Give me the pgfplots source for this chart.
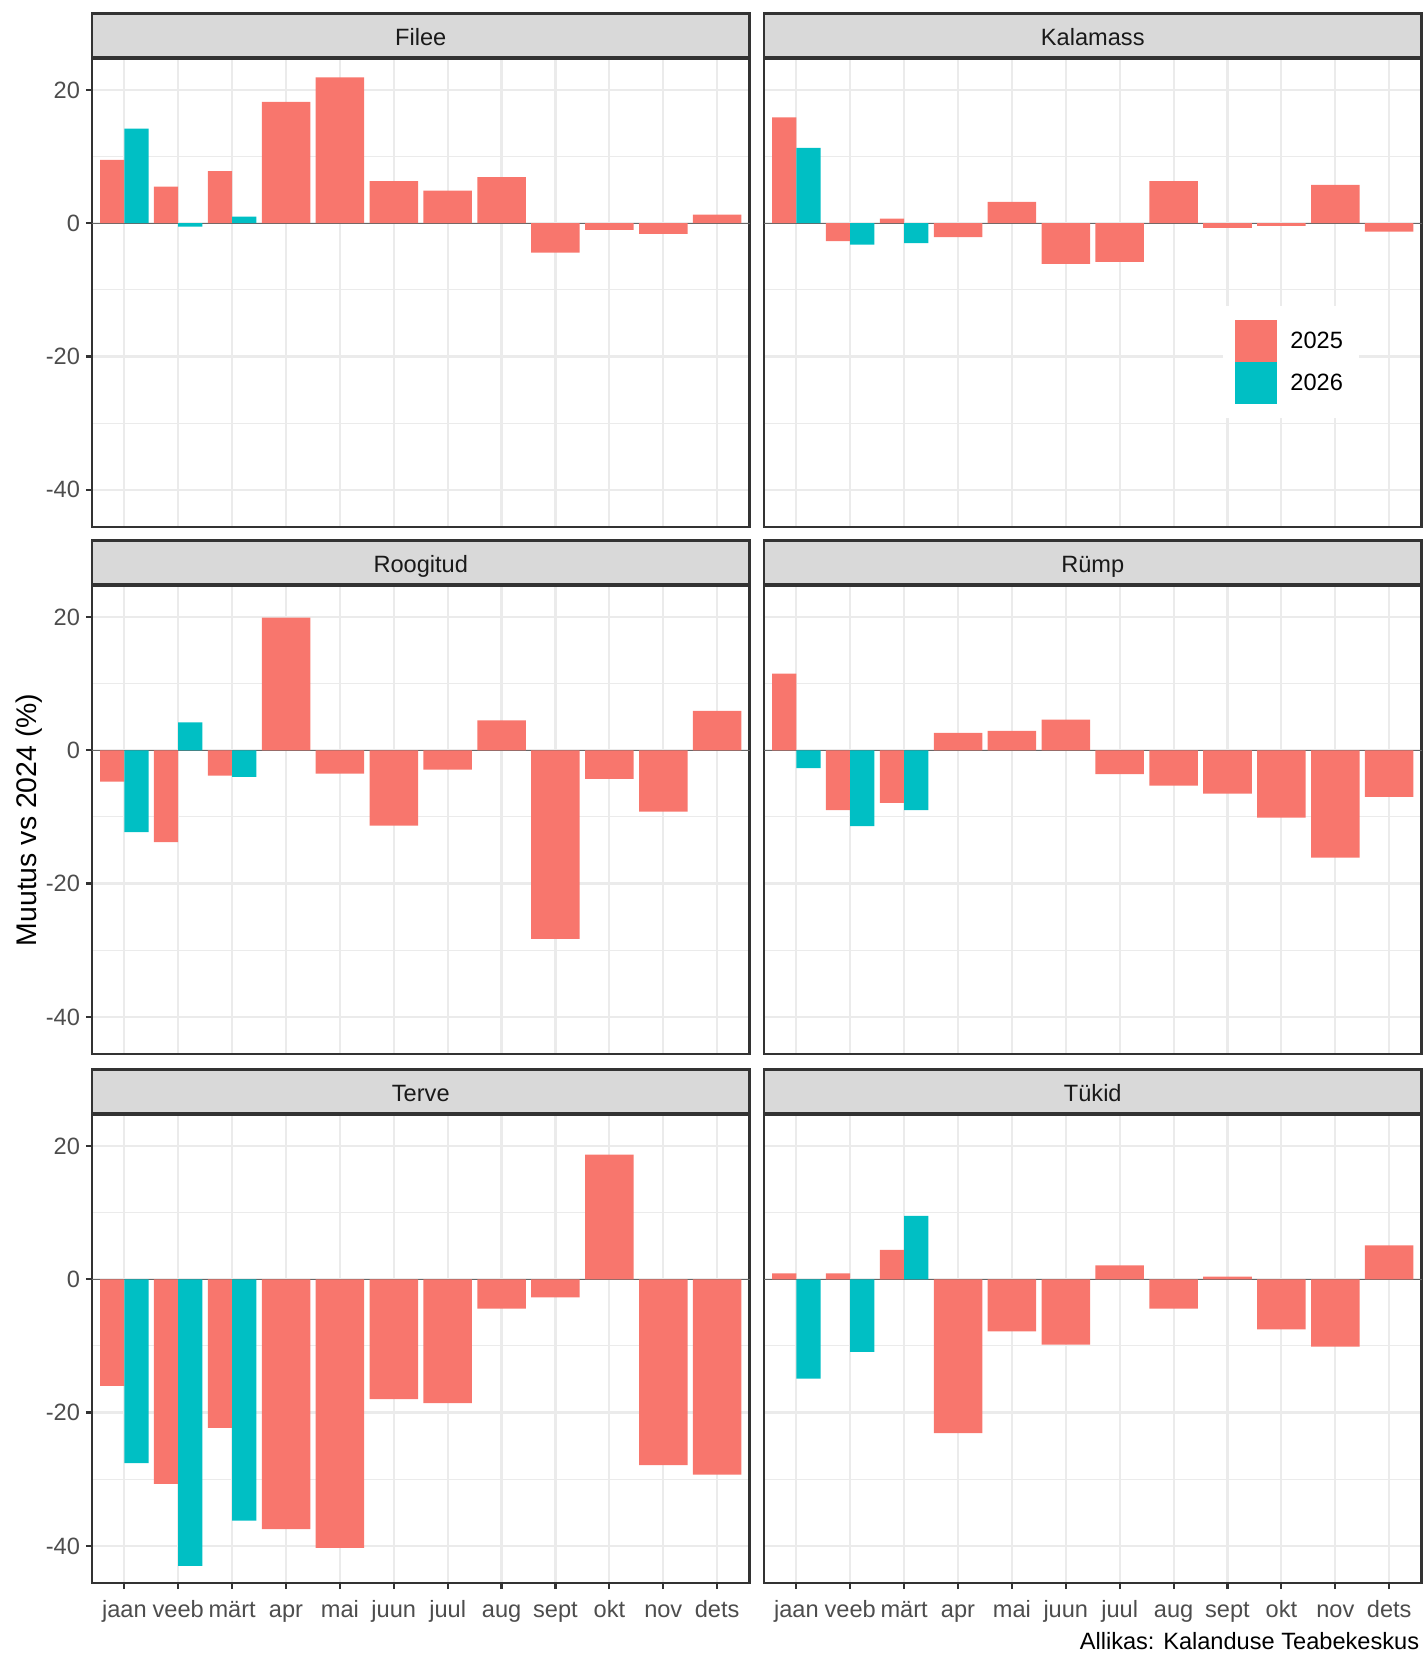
\documentclass[border=0pt]{standalone}
\usepackage{fontspec}
\setmainfont{Liberation Sans}
\usepackage{pgfplots}
\pgfplotsset{compat=1.18}
\definecolor{c25}{HTML}{F8766D}
\definecolor{c26}{HTML}{00BFC4}
\definecolor{gtwenty}{HTML}{333333}
\definecolor{gthirty}{HTML}{4D4D4D}
\definecolor{gten}{HTML}{1A1A1A}
\definecolor{gstrip}{HTML}{D9D9D9}
\definecolor{ggrid}{HTML}{EBEBEB}
\definecolor{gzero}{HTML}{666666}
\newcommand{\sm}{\fontsize{11.8}{14}\selectfont}
\pgfplotsset{
  panel/.style={
    scale only axis, width=328.75pt, height=234.3pt, anchor=north west,
    clip=false,
    xmin=0.4, xmax=12.6, ymin=-45.6, ymax=24.7,
    xtick={1,...,12}, ytick={-40,-20,0,20}, minor ytick={-30,-10,10},
    xticklabels={}, yticklabels={},
    xmajorgrids, ymajorgrids, yminorgrids,
    major grid style={ggrid, line width=1.1pt},
    minor grid style={ggrid, line width=0.55pt},
    tick pos=left, tick align=outside, major tick length=3pt, minor tick length=0pt,
    tick style={gtwenty, line width=1.1pt},
    axis line style={gtwenty, line width=1.1pt},
    xticklabel style={font=\sm, text=gthirty, anchor=base, yshift=-13.9pt},
    yticklabel style={font=\sm, text=gthirty, anchor=east, inner sep=0pt, xshift=-2.8pt},
    every axis title/.style={at={(0.5,1)}, anchor=south, fill=gstrip, draw=gtwenty,
      line width=1.1pt, minimum width=328.75pt, minimum height=22pt, inner sep=0pt,
      text=gten, font=\sm, text height=10.3pt, text depth=0pt},
  },
  xlab/.style={xticklabels={jaan,veeb,märt,apr,mai,juun,juul,aug,sept,okt,nov,dets}},
  noxt/.style={xtick style={draw=none}},
  ylab/.style={yticklabels={-40,-20,0,20}},
  noyt/.style={ytick style={draw=none}},
  b25a/.style={ybar, bar width=0.45, bar shift=-0.225, fill=c25, draw=none,
    legend image code/.code={\fill[c25] (0pt,-10.5pt) rectangle (21pt,10.5pt);}},
  b25b/.style={ybar, bar width=0.9, bar shift=0, fill=c25, draw=none, forget plot},
  b26/.style={ybar, bar width=0.45, bar shift=0.225, fill=c26, draw=none,
    legend image code/.code={\fill[c26] (0pt,-10.5pt) rectangle (21pt,10.5pt);}},
  zl/.style={gzero, line width=0.6pt, forget plot},
}
\begin{document}
\begin{tikzpicture}
\path[use as bounding box] (0,0) rectangle (712pt,-826.5pt);

% Filee
\begin{axis}[panel, ylab, noxt, at={(46pt,-29.3pt)}, title={Filee}]
\addplot[zl] coordinates {(0.4,0) (12.6,0)};
\addplot[b25a] coordinates {(1,9.5) (2,5.5) (3,7.8)};
\addplot[b25b] coordinates {(4,18.2) (5,21.9) (6,6.3) (7,4.9) (8,6.9) (9,-4.4) (10,-1.0) (11,-1.6) (12,1.3)};
\addplot[b26] coordinates {(1,14.2) (2,-0.5) (3,1.0)};
\end{axis}

% Kalamass
\begin{axis}[panel, noxt, noyt, at={(382pt,-29.3pt)}, title={Kalamass},
  legend style={at={(axis description cs:0.6976,0.472)}, anchor=north west, draw=none, fill=white,
    inner xsep=6pt, inner ysep=7pt, row sep=0pt, font=\sm,
    /tikz/every odd column/.style={column sep=4.7pt}},
  legend cell align=left]
\addplot[zl] coordinates {(0.4,0) (12.6,0)};
\addplot[b25a] coordinates {(1,15.9) (2,-2.7) (3,0.7)};
\addlegendentry{2025}
\addplot[b25b] coordinates {(4,-2.1) (5,3.2) (6,-6.1) (7,-5.8) (8,6.3) (9,-0.7) (10,-0.4) (11,5.75) (12,-1.25)};
\addplot[b26] coordinates {(1,11.3) (2,-3.2) (3,-3.0)};
\addlegendentry{2026}
\end{axis}

% Roogitud
\begin{axis}[panel, ylab, noxt, at={(46pt,-292.8pt)}, title={Roogitud},
  ylabel={Muutus vs 2024 (\%)},
  every axis y label/.style={at={(axis description cs:-0.0958,0.5)}, rotate=90, anchor=center,
    font=\fontsize{14.2}{17}\selectfont, text=black}]
\addplot[zl] coordinates {(0.4,0) (12.6,0)};
\addplot[b25a] coordinates {(1,-4.7) (2,-13.8) (3,-3.8)};
\addplot[b25b] coordinates {(4,19.9) (5,-3.5) (6,-11.3) (7,-2.9) (8,4.5) (9,-28.3) (10,-4.3) (11,-9.2) (12,5.9)};
\addplot[b26] coordinates {(1,-12.3) (2,4.2) (3,-4.0)};
\end{axis}

% Rümp
\begin{axis}[panel, noxt, noyt, at={(382pt,-292.8pt)}, title={Rümp}]
\addplot[zl] coordinates {(0.4,0) (12.6,0)};
\addplot[b25a] coordinates {(1,11.5) (2,-9.0) (3,-7.9)};
\addplot[b25b] coordinates {(4,2.6) (5,2.9) (6,4.6) (7,-3.6) (8,-5.3) (9,-6.5) (10,-10.1) (11,-16.1) (12,-7.0)};
\addplot[b26] coordinates {(1,-2.7) (2,-11.4) (3,-9.0)};
\end{axis}

% Terve
\begin{axis}[panel, ylab, xlab, at={(46pt,-557.3pt)}, title={Terve}]
\addplot[zl] coordinates {(0.4,0) (12.6,0)};
\addplot[b25a] coordinates {(1,-16.0) (2,-30.7) (3,-22.3)};
\addplot[b25b] coordinates {(4,-37.5) (5,-40.3) (6,-18.0) (7,-18.6) (8,-4.4) (9,-2.7) (10,18.7) (11,-27.9) (12,-29.3)};
\addplot[b26] coordinates {(1,-27.6) (2,-43.0) (3,-36.2)};
\end{axis}

% Tükid
\begin{axis}[panel, xlab, noyt, at={(382pt,-557.3pt)}, title={Tükid}]
\addplot[zl] coordinates {(0.4,0) (12.6,0)};
\addplot[b25a] coordinates {(1,0.9) (2,0.9) (3,4.4)};
\addplot[b25b] coordinates {(4,-23.1) (5,-7.8) (6,-9.8) (7,2.1) (8,-4.4) (9,0.4) (10,-7.5) (11,-10.1) (12,5.1)};
\addplot[b26] coordinates {(1,-14.9) (2,-10.9) (3,9.5)};
\node[anchor=base east, inner sep=0pt, font=\sm, text=black] at (axis description cs:0.997,-0.1425) {Allikas: Kalanduse Teabekeskus};
\end{axis}
\end{tikzpicture}
\end{document}
